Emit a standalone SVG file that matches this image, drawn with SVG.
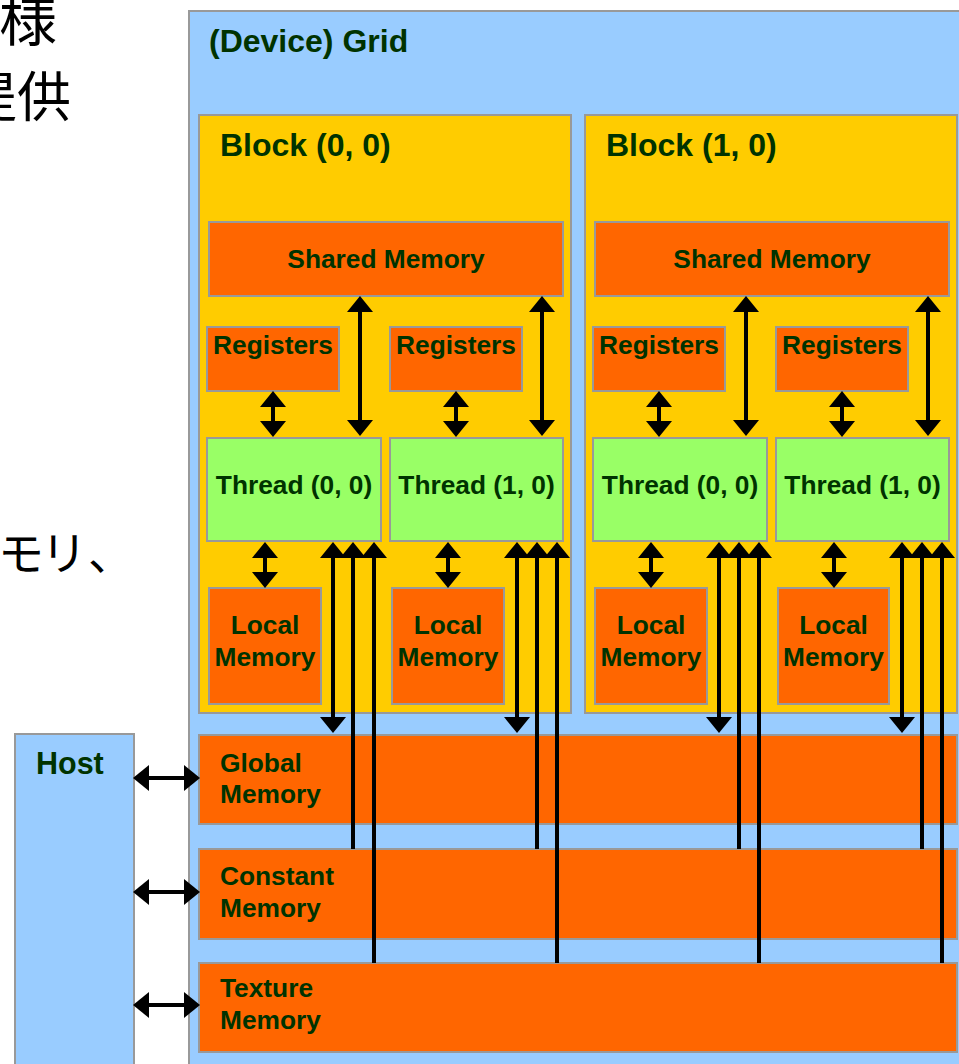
<svg xmlns="http://www.w3.org/2000/svg" width="959" height="1064" viewBox="0 0 959 1064">
<defs>
<style>
.bg{fill:#FFFFFF}
.grid{fill:#99CCFF;stroke:#999999;stroke-width:2}
.block{fill:#FFCC00;stroke:#999999;stroke-width:2}
.mem{fill:#FF6600;stroke:#999999;stroke-width:2}
.thr{fill:#99FF66;stroke:#999999;stroke-width:2}
.host{fill:#99CCFF;stroke:#999999;stroke-width:2}
.t{font-family:"Liberation Sans",Arial,sans-serif;font-weight:bold;font-size:26.3px;fill:#003300}
.big{font-size:32px}
.c{text-anchor:middle}
.jp{font-family:"Noto Sans CJK JP","Noto Sans CJK SC",sans-serif;font-size:54px;fill:#000000}
.a{stroke:#000000;stroke-width:4;fill:none}
.d{marker-start:url(#head);marker-end:url(#head)}
.u{marker-end:url(#head)}
</style>
<marker id="head" viewBox="0 0 16 26" markerWidth="16" markerHeight="26" refX="0" refY="13" markerUnits="userSpaceOnUse" orient="auto-start-reverse">
<path d="M0,0 L16,13 L0,26 Z" fill="#000000"/>
</marker>
</defs>
<rect class="bg" x="0" y="0" width="959" height="1064"/>

<g id="slide-text">
<text class="jp" x="57" y="41" text-anchor="end" style="font-size:58px">様</text>
<text class="jp" x="71" y="117" text-anchor="end">提供</text>
<text class="jp" y="570" style="font-size:46px"><tspan x="-2">モ</tspan><tspan x="41">リ</tspan><tspan x="88">、</tspan></text>
</g>

<g id="grid">
<rect class="grid" x="189" y="11" width="820" height="1100"/>
<text class="t big" x="209" y="52">(Device) Grid</text>
</g>

<g id="block00">
<rect class="block" x="199" y="115" width="372" height="598"/>
<text class="t big" x="220" y="156">Block (0, 0)</text>
</g>
<g id="block10">
<rect class="block" x="585" y="115" width="372" height="598"/>
<text class="t big" x="606" y="156">Block (1, 0)</text>
</g>

<g id="shared00">
<rect class="mem" x="209" y="222" width="354" height="74"/>
<text class="t c" x="386" y="268">Shared Memory</text>
</g>
<g id="shared10">
<rect class="mem" x="595" y="222" width="354" height="74"/>
<text class="t c" x="772" y="268">Shared Memory</text>
</g>

<g id="reg00">
<rect class="mem" x="207" y="327" width="132" height="64"/>
<text class="t c" x="273" y="354">Registers</text>
</g>
<g id="reg01">
<rect class="mem" x="390" y="327" width="132" height="64"/>
<text class="t c" x="456" y="354">Registers</text>
</g>
<g id="reg10">
<rect class="mem" x="593" y="327" width="132" height="64"/>
<text class="t c" x="659" y="354">Registers</text>
</g>
<g id="reg11">
<rect class="mem" x="776" y="327" width="132" height="64"/>
<text class="t c" x="842" y="354">Registers</text>
</g>

<g id="thread00">
<rect class="thr" x="207" y="438" width="174" height="103"/>
<text class="t c" x="294" y="494">Thread (0, 0)</text>
</g>
<g id="thread01">
<rect class="thr" x="390" y="438" width="173" height="103"/>
<text class="t c" x="476.5" y="494">Thread (1, 0)</text>
</g>
<g id="thread10">
<rect class="thr" x="593" y="438" width="174" height="103"/>
<text class="t c" x="680" y="494">Thread (0, 0)</text>
</g>
<g id="thread11">
<rect class="thr" x="776" y="438" width="173" height="103"/>
<text class="t c" x="862.5" y="494">Thread (1, 0)</text>
</g>

<g id="local00">
<rect class="mem" x="209" y="588" width="112" height="116"/>
<text class="t c" x="265" y="634">Local</text>
<text class="t c" x="265" y="666">Memory</text>
</g>
<g id="local01">
<rect class="mem" x="392" y="588" width="112" height="116"/>
<text class="t c" x="448" y="634">Local</text>
<text class="t c" x="448" y="666">Memory</text>
</g>
<g id="local10">
<rect class="mem" x="595" y="588" width="112" height="116"/>
<text class="t c" x="651" y="634">Local</text>
<text class="t c" x="651" y="666">Memory</text>
</g>
<g id="local11">
<rect class="mem" x="778" y="588" width="111" height="116"/>
<text class="t c" x="833.5" y="634">Local</text>
<text class="t c" x="833.5" y="666">Memory</text>
</g>

<g id="global">
<rect class="mem" x="199" y="735" width="758" height="89"/>
<text class="t" x="220" y="772">Global</text>
<text class="t" x="220" y="803">Memory</text>
</g>
<g id="constant">
<rect class="mem" x="199" y="849" width="758" height="90"/>
<text class="t" x="220" y="885">Constant</text>
<text class="t" x="220" y="917">Memory</text>
</g>
<g id="texture">
<rect class="mem" x="199" y="963" width="758" height="89"/>
<text class="t" x="220" y="997">Texture</text>
<text class="t" x="220" y="1029">Memory</text>
</g>

<g id="host">
<rect class="host" x="15" y="734" width="119" height="360"/>
<text class="t" x="36" y="774" style="font-size:30.5px">Host</text>
</g>

<g id="connectors">
<line class="a d" x1="360" y1="312" x2="360" y2="420"/>
<line class="a d" x1="542" y1="312" x2="542" y2="420"/>
<line class="a d" x1="746" y1="312" x2="746" y2="420"/>
<line class="a d" x1="928" y1="312" x2="928" y2="420"/>
<line class="a d" x1="273" y1="407" x2="273" y2="421"/>
<line class="a d" x1="456" y1="407" x2="456" y2="421"/>
<line class="a d" x1="659" y1="407" x2="659" y2="421"/>
<line class="a d" x1="842" y1="407" x2="842" y2="421"/>
<line class="a d" x1="265" y1="558" x2="265" y2="572"/>
<line class="a d" x1="448" y1="558" x2="448" y2="572"/>
<line class="a d" x1="651" y1="558" x2="651" y2="572"/>
<line class="a d" x1="834" y1="558" x2="834" y2="572"/>
<line class="a d" x1="333" y1="558" x2="333" y2="717"/>
<line class="a d" x1="517" y1="558" x2="517" y2="717"/>
<line class="a d" x1="719" y1="558" x2="719" y2="717"/>
<line class="a d" x1="902" y1="558" x2="902" y2="717"/>
<line class="a u" x1="353" y1="849" x2="353" y2="558"/>
<line class="a u" x1="537" y1="849" x2="537" y2="558"/>
<line class="a u" x1="739" y1="849" x2="739" y2="558"/>
<line class="a u" x1="922" y1="849" x2="922" y2="558"/>
<line class="a u" x1="374" y1="963" x2="374" y2="558"/>
<line class="a u" x1="557" y1="963" x2="557" y2="558"/>
<line class="a u" x1="759" y1="963" x2="759" y2="558"/>
<line class="a u" x1="942" y1="963" x2="942" y2="558"/>
<line class="a d" x1="149" y1="778" x2="184" y2="778"/>
<line class="a d" x1="149" y1="892" x2="184" y2="892"/>
<line class="a d" x1="149" y1="1005" x2="184" y2="1005"/>
</g>
</svg>
